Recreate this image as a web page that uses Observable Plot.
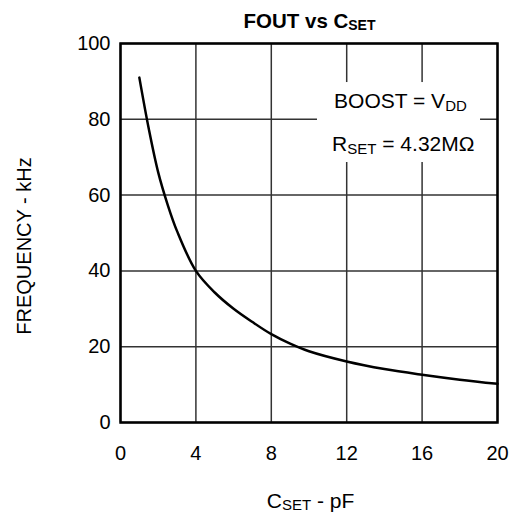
<!DOCTYPE html>
<html><head><meta charset="utf-8">
<script src="https://cdn.jsdelivr.net/npm/d3@7"></script>
<script src="https://cdn.jsdelivr.net/npm/@observablehq/plot@0.6"></script>
<style>
body{margin:0;background:#fff}
#chart svg{font-family:"Liberation Sans",Arial,sans-serif}
</style>
</head><body><div id="chart"></div>
<script>
// Data
const cset = [1, 1.5, 2, 2.5, 3, 4, 5, 6, 7, 8, 9, 10, 12, 14, 16, 18, 20];
const freq = [91, 77.5, 66, 57.5, 50.5, 40, 34.3, 30, 26.5, 23.3, 20.8, 18.8, 16.1, 14.1, 12.6, 11.3, 10.2];
const xTicks = [0, 4, 8, 12, 16, 20];
const yTicks = [0, 20, 40, 60, 80, 100];
const noteBase = ["BOOST = V", "R"];
const noteSub = ["DD", "SET"];
const noteRest = ["", " = 4.32MΩ"];
const noteX = [14.85, 15.0];
const noteY = [84.7, 73.3];
const boxX = [10.45, 19.1];
const boxY = [68.6, 89.7];

const curve = cset.map((c, i) => ({c, f: freq[i]}));
const notes = noteBase.map((b, i) => ({x: noteX[i], y: noteY[i], base: b, sub: noteSub[i], rest: noteRest[i]}));
const boxes = [{x1: boxX[0], x2: boxX[1], y1: boxY[0], y2: boxY[1]}];

const W = 515, H = 517, mL = 120, mR = 18, mT = 43, mB = 95;
const plot = Plot.plot({
  width: W, height: H, marginLeft: mL, marginRight: mR, marginTop: mT, marginBottom: mB,
  style: {fontFamily: "Liberation Sans, Arial, sans-serif", fontSize: "20px", color: "#000", background: "#fff"},
  x: {domain: [0, 20], label: null},
  y: {domain: [0, 100], label: null},
  marks: [
    Plot.gridX(xTicks, {stroke: "#333", strokeOpacity: 1, strokeWidth: 1.5}),
    Plot.gridY(yTicks, {stroke: "#333", strokeOpacity: 1, strokeWidth: 1.5}),
    Plot.rect(boxes, {x1: "x1", x2: "x2", y1: "y1", y2: "y2", fill: "white"}),
    Plot.line(curve, {x: "c", y: "f", curve: "catmull-rom", stroke: "black", strokeWidth: 2.5}),
    Plot.text(notes, {x: "x", y: "y", text: d => d.base + d.sub + d.rest, fontSize: 21, fill: "black"}),
    Plot.frame({stroke: "black", strokeWidth: 2.5}),
    Plot.axisX(xTicks, {tickSize: 0, tickPadding: 23, fontSize: 20, label: null}),
    Plot.axisY(yTicks, {tickSize: 0, tickPadding: 10, fontSize: 20, label: null})
  ]
});
document.getElementById("chart").append(plot);

const svg = d3.select(plot);
// subscripts in annotations
svg.selectAll('g[aria-label="text"] text').each(function(_, i) {
  const t = d3.select(this);
  const n = notes[i];
  t.text(null);
  t.append("tspan").text(n.base);
  t.append("tspan").attr("font-size", 15).attr("dy", 3).text(n.sub);
  if (n.rest) t.append("tspan").attr("dy", -3).text(n.rest);
});

const cx = (mL + W - mR) / 2;
// title
const title = svg.append("text").attr("x", cx + 1).attr("y", 28).attr("text-anchor", "middle")
  .attr("font-weight", "bold").attr("font-size", 20.5).attr("fill", "black");
title.append("tspan").text("FOUT vs C");
title.append("tspan").attr("font-size", 14).attr("dy", 2).text("SET");
// x label
const xl = svg.append("text").attr("x", cx + 2).attr("y", 508).attr("text-anchor", "middle")
  .attr("font-size", 21).attr("fill", "black");
xl.append("tspan").text("C");
xl.append("tspan").attr("font-size", 15).attr("dy", 2).text("SET");
xl.append("tspan").attr("dy", -2).text(" - pF");
// y label
svg.append("text").attr("transform", "translate(31,246) rotate(-90)").attr("text-anchor", "middle")
  .attr("font-size", 20).attr("fill", "black").text("FREQUENCY - kHz");
</script>
</body></html>
